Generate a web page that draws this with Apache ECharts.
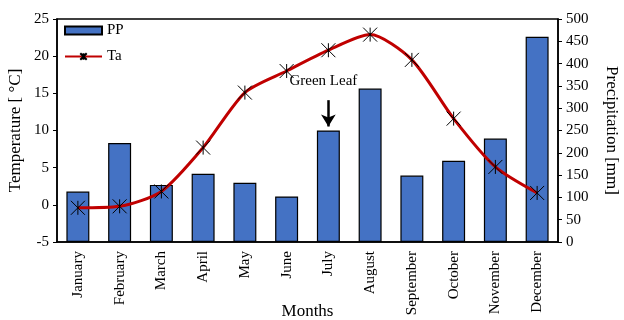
<!DOCTYPE html>
<html>
<head>
<meta charset="utf-8">
<script src="https://cdn.jsdelivr.net/npm/echarts@6/dist/echarts.min.js"></script>
<style>
  html, body { margin: 0; padding: 0; background: #fff; }
  #chart { width: 624px; height: 320px; }
</style>
</head>
<body>
<div id="chart"></div>
<script>
// Monthly climate: precipitation (bars, right axis) and air temperature (line, left axis)
const months = ['January', 'February', 'March', 'April', 'May', 'June',
                'July', 'August', 'September', 'October', 'November', 'December'];
const precipitation = [113, 222, 128, 153, 133, 102, 250, 344, 149, 182, 232, 460];
const temperature = [-0.4, -0.2, 1.8, 7.7, 15.1, 18.0, 20.8, 22.9, 19.5, 11.6, 5.1, 1.6];
const tempTicks = { min: -5, max: 25, interval: 5 };
const precTicks = { min: 0, max: 500, interval: 50 };
// "Green Leaf" annotation over July, in precipitation units
const noteMonth = 'July';
const noteText = 'Green Leaf';
const noteTextLevel = 360;
const arrowFrom = 318;
const arrowTo = 259;

const FONT = '"Liberation Serif", "Times New Roman", serif';
const starPath = 'path://M0,0L10,10M10,0L0,10M5,0L5,10';

const chart = echarts.init(document.getElementById('chart'), null, { renderer: 'canvas' });

chart.setOption({
  backgroundColor: '#fff',
  animation: false,
  textStyle: { fontFamily: FONT, color: '#000' },
  grid: {
    left: 57, right: 66, top: 19, bottom: 78,
    outerBoundsMode: 'none',
    containLabel: false,
    show: true, borderColor: '#000', borderWidth: 1.5, backgroundColor: 'transparent'
  },
  legend: {
    orient: 'vertical',
    left: 59, top: 18,
    itemWidth: 37, itemHeight: 8, itemGap: 11,
    textStyle: { fontFamily: FONT, fontSize: 15, color: '#000' },
    data: [{ name: 'PP', icon: 'rect' }, { name: 'Ta' }]
  },
  xAxis: {
    type: 'category',
    data: months,
    boundaryGap: true,
    name: 'Months',
    nameLocation: 'middle',
    nameGap: 61,
    nameMoveOverlap: false,
    nameTextStyle: { fontFamily: FONT, fontSize: 17, color: '#000' },
    axisLine: { onZero: false, lineStyle: { color: '#000', width: 1.5 } },
    axisTick: { show: false },
    axisLabel: { rotate: 90, fontFamily: FONT, fontSize: 15, color: '#000', margin: 9 },
    splitLine: { show: false }
  },
  yAxis: [
    {
      type: 'value',
      min: tempTicks.min, max: tempTicks.max, interval: tempTicks.interval,
      name: 'Temperature [ °C]',
      nameLocation: 'middle',
      nameGap: 33,
      nameMoveOverlap: false,
      nameTextStyle: { fontFamily: FONT, fontSize: 17, color: '#000' },
      axisLine: { show: true, lineStyle: { color: '#000', width: 1.5 } },
      axisTick: { show: true, length: 4, lineStyle: { color: '#000' } },
      axisLabel: { fontFamily: FONT, fontSize: 15, color: '#000', margin: 8 },
      splitLine: { show: false }
    },
    {
      type: 'value',
      position: 'right',
      min: precTicks.min, max: precTicks.max, interval: precTicks.interval,
      name: 'Precipitation [mm]',
      nameLocation: 'middle',
      nameGap: 45,
      nameRotate: -90,
      nameMoveOverlap: false,
      nameTextStyle: { fontFamily: FONT, fontSize: 17, color: '#000' },
      axisLine: { show: true, lineStyle: { color: '#000', width: 1.5 } },
      axisTick: { show: true, length: 4, lineStyle: { color: '#000' } },
      axisLabel: { fontFamily: FONT, fontSize: 15, color: '#000', margin: 8 },
      splitLine: { show: false }
    }
  ],
  series: [
    {
      name: 'PP',
      type: 'bar',
      yAxisIndex: 1,
      data: precipitation,
      barWidth: '55%',
      itemStyle: { color: '#4472C4', borderColor: '#000', borderWidth: 1.2 },
      markLine: {
        silent: true,
        symbol: ['none', 'arrow'],
        symbolSize: [11, 12],
        lineStyle: { color: '#000', width: 2.5, type: 'solid' },
        label: { show: false },
        data: [[
          { coord: [noteMonth, arrowFrom] },
          { coord: [noteMonth, arrowTo] }
        ]]
      },
      markPoint: {
        silent: true,
        symbol: 'circle',
        symbolSize: 0,
        data: [{
          coord: [noteMonth, noteTextLevel],
          label: {
            show: true,
            formatter: noteText,
            position: 'inside',
            offset: [-5, 0],
            fontFamily: FONT, fontSize: 15, color: '#000'
          }
        }]
      }
    },
    {
      name: 'Ta',
      type: 'line',
      yAxisIndex: 0,
      data: temperature,
      smooth: 0.25,
      symbol: starPath,
      symbolSize: 14,
      lineStyle: { color: '#C00000', width: 3 },
      itemStyle: { color: 'transparent', borderColor: '#000', borderWidth: 1 },
      z: 5
    }
  ]
});
</script>
</body>
</html>
